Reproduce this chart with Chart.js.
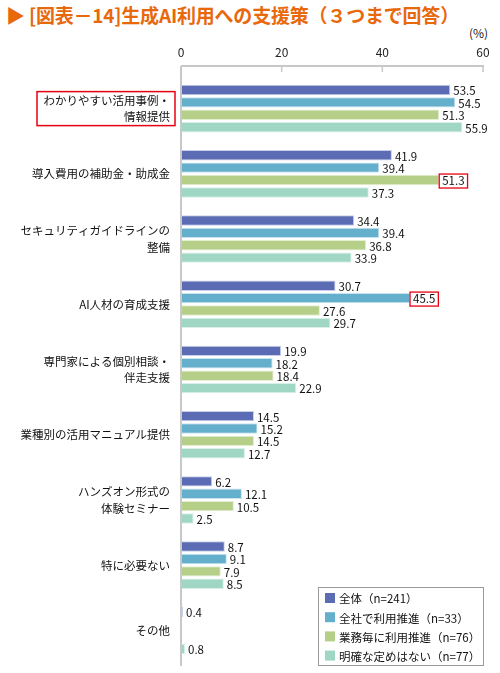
<!DOCTYPE html>
<html><head><meta charset="utf-8">
<script src="https://cdn.jsdelivr.net/npm/chart.js@4/dist/chart.umd.min.js"></script>
<style>
html,body{margin:0;padding:0;background:#fff;}
#wrap{position:relative;width:500px;height:673px;}
#title{position:absolute;left:6px;top:1px;font:bold 19px "Noto Sans CJK JP";color:#e8680c;white-space:nowrap;letter-spacing:-0.2px;}
#unit{position:absolute;left:469px;top:24px;font:12px "Noto Sans CJK JP";color:#222;}
canvas{position:absolute;left:0;top:0;}
</style></head><body>
<div id="wrap">
<div id="title">▶ [図表－14]生成AI利用への支援策（３つまで回答）</div>
<div id="unit">(%)</div>
<canvas id="c" width="500" height="673"></canvas>
</div>
<script>
const categories = [
  ["わかりやすい活用事例・","情報提供"],
  "導入費用の補助金・助成金",
  ["セキュリティガイドラインの","整備"],
  "AI人材の育成支援",
  ["専門家による個別相談・","伴走支援"],
  "業種別の活用マニュアル提供",
  ["ハンズオン形式の","体験セミナー"],
  "特に必要ない",
  "その他"
];
const seriesNames = ["全体（n=241）","全社で利用推進（n=33）","業務毎に利用推進（n=76）","明確な定めはない（n=77）"];
const allValues     = [53.5, 41.9, 34.4, 30.7, 19.9, 14.5, 6.2, 8.7, 0.4];
const companyValues = [54.5, 39.4, 39.4, 45.5, 18.2, 15.2, 12.1, 9.1, null];
const taskValues    = [51.3, 51.3, 36.8, 27.6, 18.4, 14.5, 10.5, 7.9, null];
const noRuleValues  = [55.9, 37.3, 33.9, 29.7, 22.9, 12.7, 2.5, 8.5, 0.8];
const xTicks = [0, 20, 40, 60];
const colors = ["#5b6bb4", "#64afcb", "#b5ce88", "#9fd6c4"];
const borders = ["#c9cfe8", "#c8e4ef", "#e4eed3", "#d9efe7"];
// highlighted labels: [datasetIndex, categoryIndex]
const highlights = [[2,1],[1,3]];

const font = '"Noto Sans CJK JP"';

const decoPlugin = {
  id:'deco',
  afterDraw(chart){
    const ctx = chart.ctx;
    const xs = chart.scales.x, ys = chart.scales.y;
    const ca = chart.chartArea;
    const axisY = ca.top - 10;
    const x0 = xs.getPixelForValue(0), x1 = xs.getPixelForValue(60);
    ctx.save();
    ctx.strokeStyle = '#c8c8c8';
    ctx.lineWidth = 2;
    ctx.beginPath();
    ctx.moveTo(x0, axisY); ctx.lineTo(x1+1, axisY);
    ctx.moveTo(x0, axisY); ctx.lineTo(x0, ca.bottom+3);
    ctx.stroke();
    ctx.lineWidth = 1.5;
    ctx.beginPath();
    xTicks.forEach(t=>{ if(t===0) return; const px = xs.getPixelForValue(t); ctx.moveTo(px, axisY); ctx.lineTo(px, axisY+6); });
    ctx.stroke();
    ctx.font = '11.5px ' + font;
    ctx.textBaseline = 'middle';
    ctx.fillStyle = '#111';
    chart.data.datasets.forEach((ds, di)=>{
      const meta = chart.getDatasetMeta(di);
      meta.data.forEach((bar, ci)=>{
        const v = ds.data[ci];
        if (v === null || v === undefined) return;
        const txt = v.toFixed(1);
        const tx = bar.x + 3;
        const ty = bar.y + 1;
        ctx.fillText(txt, tx, ty);
        if (highlights.some(h=>h[0]===di && h[1]===ci)) {
          const w = ctx.measureText(txt).width;
          ctx.strokeStyle = '#e60012';
          ctx.lineWidth = 1.3;
          ctx.strokeRect(tx-3, ty-7, w+6, 14);
        }
      });
    });
    const cy = ys.getPixelForValue(0);
    ctx.strokeStyle = '#e60012';
    ctx.lineWidth = 1.5;
    ctx.strokeRect(37, cy-17, 138, 34);
    const lx = 318, ly = 587, lw = 165, lh = 78;
    ctx.fillStyle = '#fff';
    ctx.fillRect(lx, ly, lw, lh);
    ctx.strokeStyle = '#999';
    ctx.lineWidth = 1;
    ctx.strokeRect(lx+0.5, ly+0.5, lw, lh);
    ctx.font = '11.5px ' + font;
    ctx.textBaseline = 'middle';
    seriesNames.forEach((n, i)=>{
      const yy = ly + 11 + i*19.2;
      ctx.fillStyle = colors[i];
      ctx.fillRect(lx+7, yy-5, 10, 10);
      ctx.fillStyle = '#111';
      ctx.fillText(n, lx+21, yy+1);
    });
    ctx.restore();
  }
};

new Chart(document.getElementById('c'), {
  type:'bar',
  data:{
    labels: categories,
    datasets:[
      {label:seriesNames[0], data:allValues, backgroundColor:colors[0], borderColor:borders[0], borderWidth:1},
      {label:seriesNames[1], data:companyValues, backgroundColor:colors[1], borderColor:borders[1], borderWidth:1},
      {label:seriesNames[2], data:taskValues, backgroundColor:colors[2], borderColor:borders[2], borderWidth:1},
      {label:seriesNames[3], data:noRuleValues, backgroundColor:colors[3], borderColor:borders[3], borderWidth:1}
    ]
  },
  options:{
    indexAxis:'y',
    responsive:false,
    animation:false,
    devicePixelRatio:1,
    layout:{padding:{left:0, right:17, top:0, bottom:10}},
    categoryPercentage:0.76,
    barPercentage:0.84,
    plugins:{legend:{display:false}, tooltip:{enabled:false}},
    scales:{
      x:{
        position:'top', min:0, max:60,
        afterBuildTicks(s){ s.ticks = xTicks.map(v=>({value:v})); },
        grid:{display:false, drawTicks:false},
        border:{display:false},
        ticks:{font:{family:'"Noto Sans CJK JP"', size:12}, color:'#222', padding:16},
        afterFit(s){ s.height = 76; s.paddingLeft = 0; s.paddingRight = 0; }
      },
      y:{
        grid:{display:false, drawTicks:false},
        border:{display:false},
        ticks:{font:{family:'"Noto Sans CJK JP"', size:11.5, lineHeight:1.45}, color:'#111', padding:11},
        afterFit(s){ s.width = 181; s.paddingTop = 0; s.paddingBottom = 0; }
      }
    }
  },
  plugins:[decoPlugin]
});
</script>
</body></html>
